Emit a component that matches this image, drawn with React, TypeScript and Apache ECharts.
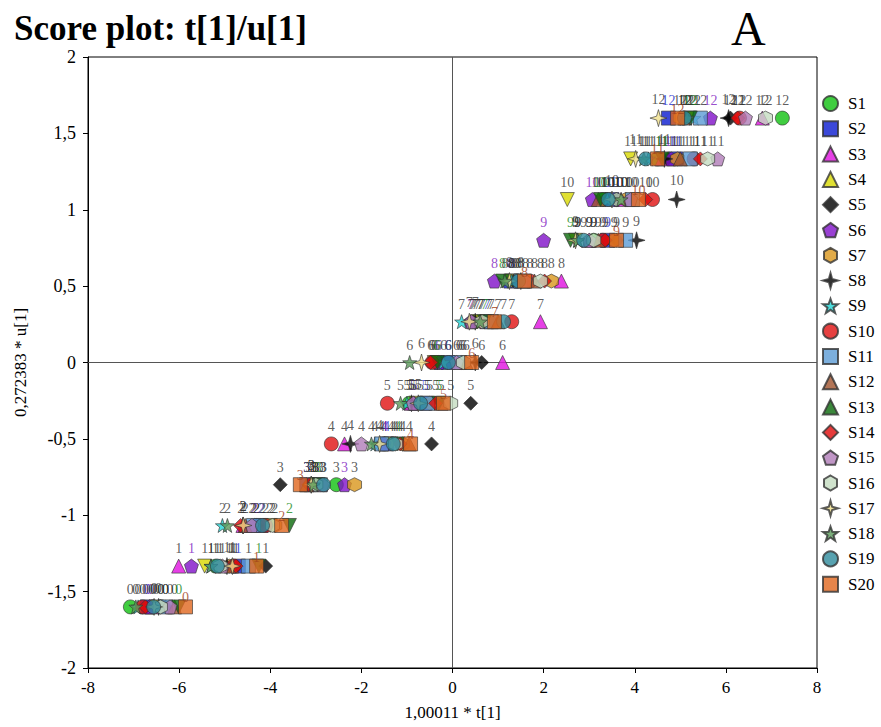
import React, { useEffect, useRef } from "react";
import * as echarts from "echarts";

const seriesNames = ["S1","S2","S3","S4","S5","S6","S7","S8","S9","S10","S11","S12","S13","S14","S15","S16","S17","S18","S19","S20"];
const yLevels = [-1.6, -1.333, -1.067, -0.8, -0.533, -0.267, 0, 0.267, 0.533, 0.8, 1.067, 1.333, 1.6];
const levelLabels = ["0","1","2","3","4","5","6","7","8","9","10","11","12"];

// x values per level (row), one per series S1..S20
const row0 = [-7.07,-6.7,-6.6,-6.5,-6.3,-6.65,-6.4,-6.45,-6.9,-6.8,-6.3,-6.1,-6.01,-6.74,-6.2,-6.41,-6.55,-6.95,-6.56,-5.86];
const row1 = [-5.2,-4.7,-6.01,-5.44,-4.1,-5.73,-4.9,-4.95,-5.3,-4.8,-4.48,-4.85,-4.25,-4.75,-5.05,-5.1,-4.83,-5.3,-5.16,-4.3];
const row2 = [-4.3,-4.2,-4.6,-4.0,-4.3,-4.35,-3.9,-4.6,-5.05,-4.1,-4.37,-4.55,-3.58,-4.65,-4.4,-3.95,-4.59,-4.94,-4.17,-3.75];
const row3 = [-2.55,-3.2,-3.1,-3.0,-3.78,-2.37,-2.15,-3.1,-3.0,-3.05,-2.9,-3.2,-2.95,-3.15,-2.85,-3.0,-3.1,-3.05,-2.83,-3.34];
const row4 = [-1.5,-1.45,-2.37,-1.35,-0.46,-1.5,-1.1,-2.24,-1.7,-2.66,-1.56,-0.95,-1.2,-1.15,-2.0,-1.25,-1.6,-1.78,-1.3,-0.92];
const row5 = [-0.95,-0.6,-0.9,-0.8,0.4,-0.85,-0.5,-0.9,-1.0,-1.43,-0.55,-0.25,-0.3,-0.37,-0.86,-0.04,-0.75,-1.14,-0.7,-0.2];
const row6 = [-0.35,-0.1,1.1,-0.4,0.64,-0.3,0.2,0.5,-0.2,-0.45,0.15,0.3,-0.33,-0.48,0.09,0.24,-0.68,-0.94,-0.09,0.42];
const row7 = [0.5,0.75,1.93,0.55,0.45,0.4,0.8,0.5,0.2,1.3,0.85,1.0,0.7,0.62,0.42,0.65,0.37,0.61,1.12,0.92];
const row8 = [1.4,1.28,2.39,1.3,1.35,0.92,2.17,1.5,1.3,1.7,1.5,1.8,1.1,2.02,1.6,1.93,1.25,1.15,1.45,1.58];
const row9 = [3.1,3.4,3.0,2.7,3.6,2.0,3.55,4.04,2.75,3.3,3.8,3.2,2.59,3.35,3.0,3.1,2.7,2.75,2.88,3.6];
const row10 = [3.3,3.5,3.7,2.52,3.6,3.07,3.8,4.92,3.4,4.39,3.95,3.2,3.25,4.24,3.91,3.6,3.5,3.7,3.42,4.08];
const row11 = [4.5,4.9,4.6,3.91,4.72,4.8,4.94,4.65,4.3,5.3,5.22,5.0,4.6,5.44,5.82,5.6,4.02,4.2,4.24,4.5];
const row12 = [7.24,4.74,6.8,5.2,6.1,5.66,5.0,6.06,5.3,6.3,5.44,5.1,5.22,6.26,6.43,6.87,4.52,5.15,5.09,4.94];
const rows = [row0,row1,row2,row3,row4,row5,row6,row7,row8,row9,row10,row11,row12];

const PENT = "path://M0,-10 L9.51,-3.09 L5.88,8.09 L-5.88,8.09 L-9.51,-3.09 Z";
const HEX = "path://M0,-10 L8.66,-5 L8.66,5 L0,10 L-8.66,5 L-8.66,-5 Z";
const STAR4 = "path://M0,-10 L2.2,-2.2 L10,0 L2.2,2.2 L0,10 L-2.2,2.2 L-10,0 L-2.2,-2.2 Z";
const STAR5 = "path://M0,-10 L2.35,-3.24 L9.51,-3.09 L3.8,1.24 L5.88,8.09 L0,4 L-5.88,8.09 L-3.8,1.24 L-9.51,-3.09 L-2.35,-3.24 Z";

const colors = ["#10c010","#0a1ad0","#e010e0","#d8d800","#000000","#8010c8","#d9961c","#000000","#22d4d4","#e01010","#5b9bd5","#a0522d","#0a6a0a","#e00a0a","#b07cb8","#c4dcc0","#f0e08c","#5a9a5a","#2e8b9c","#e0661e"];
const symbols = ["circle","rect","triangle","triangle","diamond",PENT,HEX,STAR4,STAR5,"circle","rect","triangle","triangle","diamond",PENT,HEX,STAR4,STAR5,"circle","rect"];
const rotations = [0,0,0,180,0,0,0,0,0,0,0,0,180,0,0,0,0,0,0,0];
const labelColors = ["#333","#1a2ad0","#333","#333","#333","#8020c0","#333","#333","#333","#333","#333","#333","#1a8a1a","#333","#333","#333","#333","#333","#333","#a0401a"];

const FONT = "'Liberation Serif', 'DejaVu Serif', serif";

export default function App() {
  const ref = useRef<HTMLDivElement>(null);
  useEffect(() => {
    document.body.style.margin = "0";
    if (!ref.current) return;
    const chart = echarts.init(ref.current, null, { renderer: "svg" });
    const series: any[] = seriesNames.map((name, si) => ({
      name,
      type: "scatter",
      symbol: symbols[si],
      symbolRotate: rotations[si],
      symbolSize: symbols[si] === STAR4 ? 17 : 14,
      z: 3,
      itemStyle: { color: colors[si], borderColor: "#333", borderWidth: 0.8 },
      label: {
        show: true,
        position: si === 19 ? "inside" : "top",
        offset: si === 19 ? [0, -9] : [0, 0],
        distance: 3,
        formatter: (p: any) => levelLabels[p.data[2]],
        fontFamily: FONT,
        fontSize: 14,
        color: labelColors[si],
      },
      data: rows.map((r, li) => [r[si], yLevels[li], li]),
      markLine: si === 0 ? {
        silent: true,
        symbol: "none",
        z: 1,
        label: { show: false },
        lineStyle: { color: "#555", width: 1, type: "solid" },
        data: [{ xAxis: 0 }, { yAxis: 0 }],
      } : undefined,
    }));
    chart.setOption({
      animation: false,
      backgroundColor: "#fff",
      grid: { left: 88, right: 64, top: 57, bottom: 59, show: true, borderColor: "#000", borderWidth: 1 },
      xAxis: {
        type: "value", min: -8, max: 8, interval: 2,
        name: "1,00011 * t[1]", nameLocation: "middle", nameGap: 36,
        nameTextStyle: { fontFamily: FONT, fontSize: 17, color: "#000" },
        axisLine: { show: true, onZero: false, lineStyle: { color: "#000" } },
        axisTick: { show: true, length: 5, lineStyle: { color: "#000" } },
        axisLabel: { fontFamily: FONT, fontSize: 17, color: "#000", margin: 11 },
        splitLine: { show: false },
      },
      yAxis: {
        type: "value", min: -2, max: 2, interval: 0.5,
        name: "0,272383 * u[1]", nameLocation: "middle", nameGap: 59,
        nameTextStyle: { fontFamily: FONT, fontSize: 17, color: "#000" },
        axisLine: { show: true, onZero: false, lineStyle: { color: "#000" } },
        axisTick: { show: true, length: 5, lineStyle: { color: "#000" } },
        axisLabel: {
          fontFamily: FONT, fontSize: 18, color: "#000", margin: 12,
          formatter: (v: number) => String(v).replace(".", ","),
        },
        splitLine: { show: false },
      },
      legend: {
        orient: "vertical", left: 817, top: 90,
        itemWidth: 15, itemHeight: 15, itemGap: 8.3,
        textStyle: { fontFamily: FONT, fontSize: 17, color: "#000", padding: [0, 0, 0, 5] },
        data: seriesNames,
      },
      graphic: [
        { type: "text", left: 14, top: 11, style: { text: "Score plot: t[1]/u[1]", font: `bold 35px ${FONT}`, fill: "#000" } },
        { type: "text", left: 731, top: 4, style: { text: "A", font: `48px ${FONT}`, fill: "#000" } },
      ],
      series,
    });
    return () => chart.dispose();
  }, []);
  return <div ref={ref} style={{ width: 881, height: 727 }} />;
}
